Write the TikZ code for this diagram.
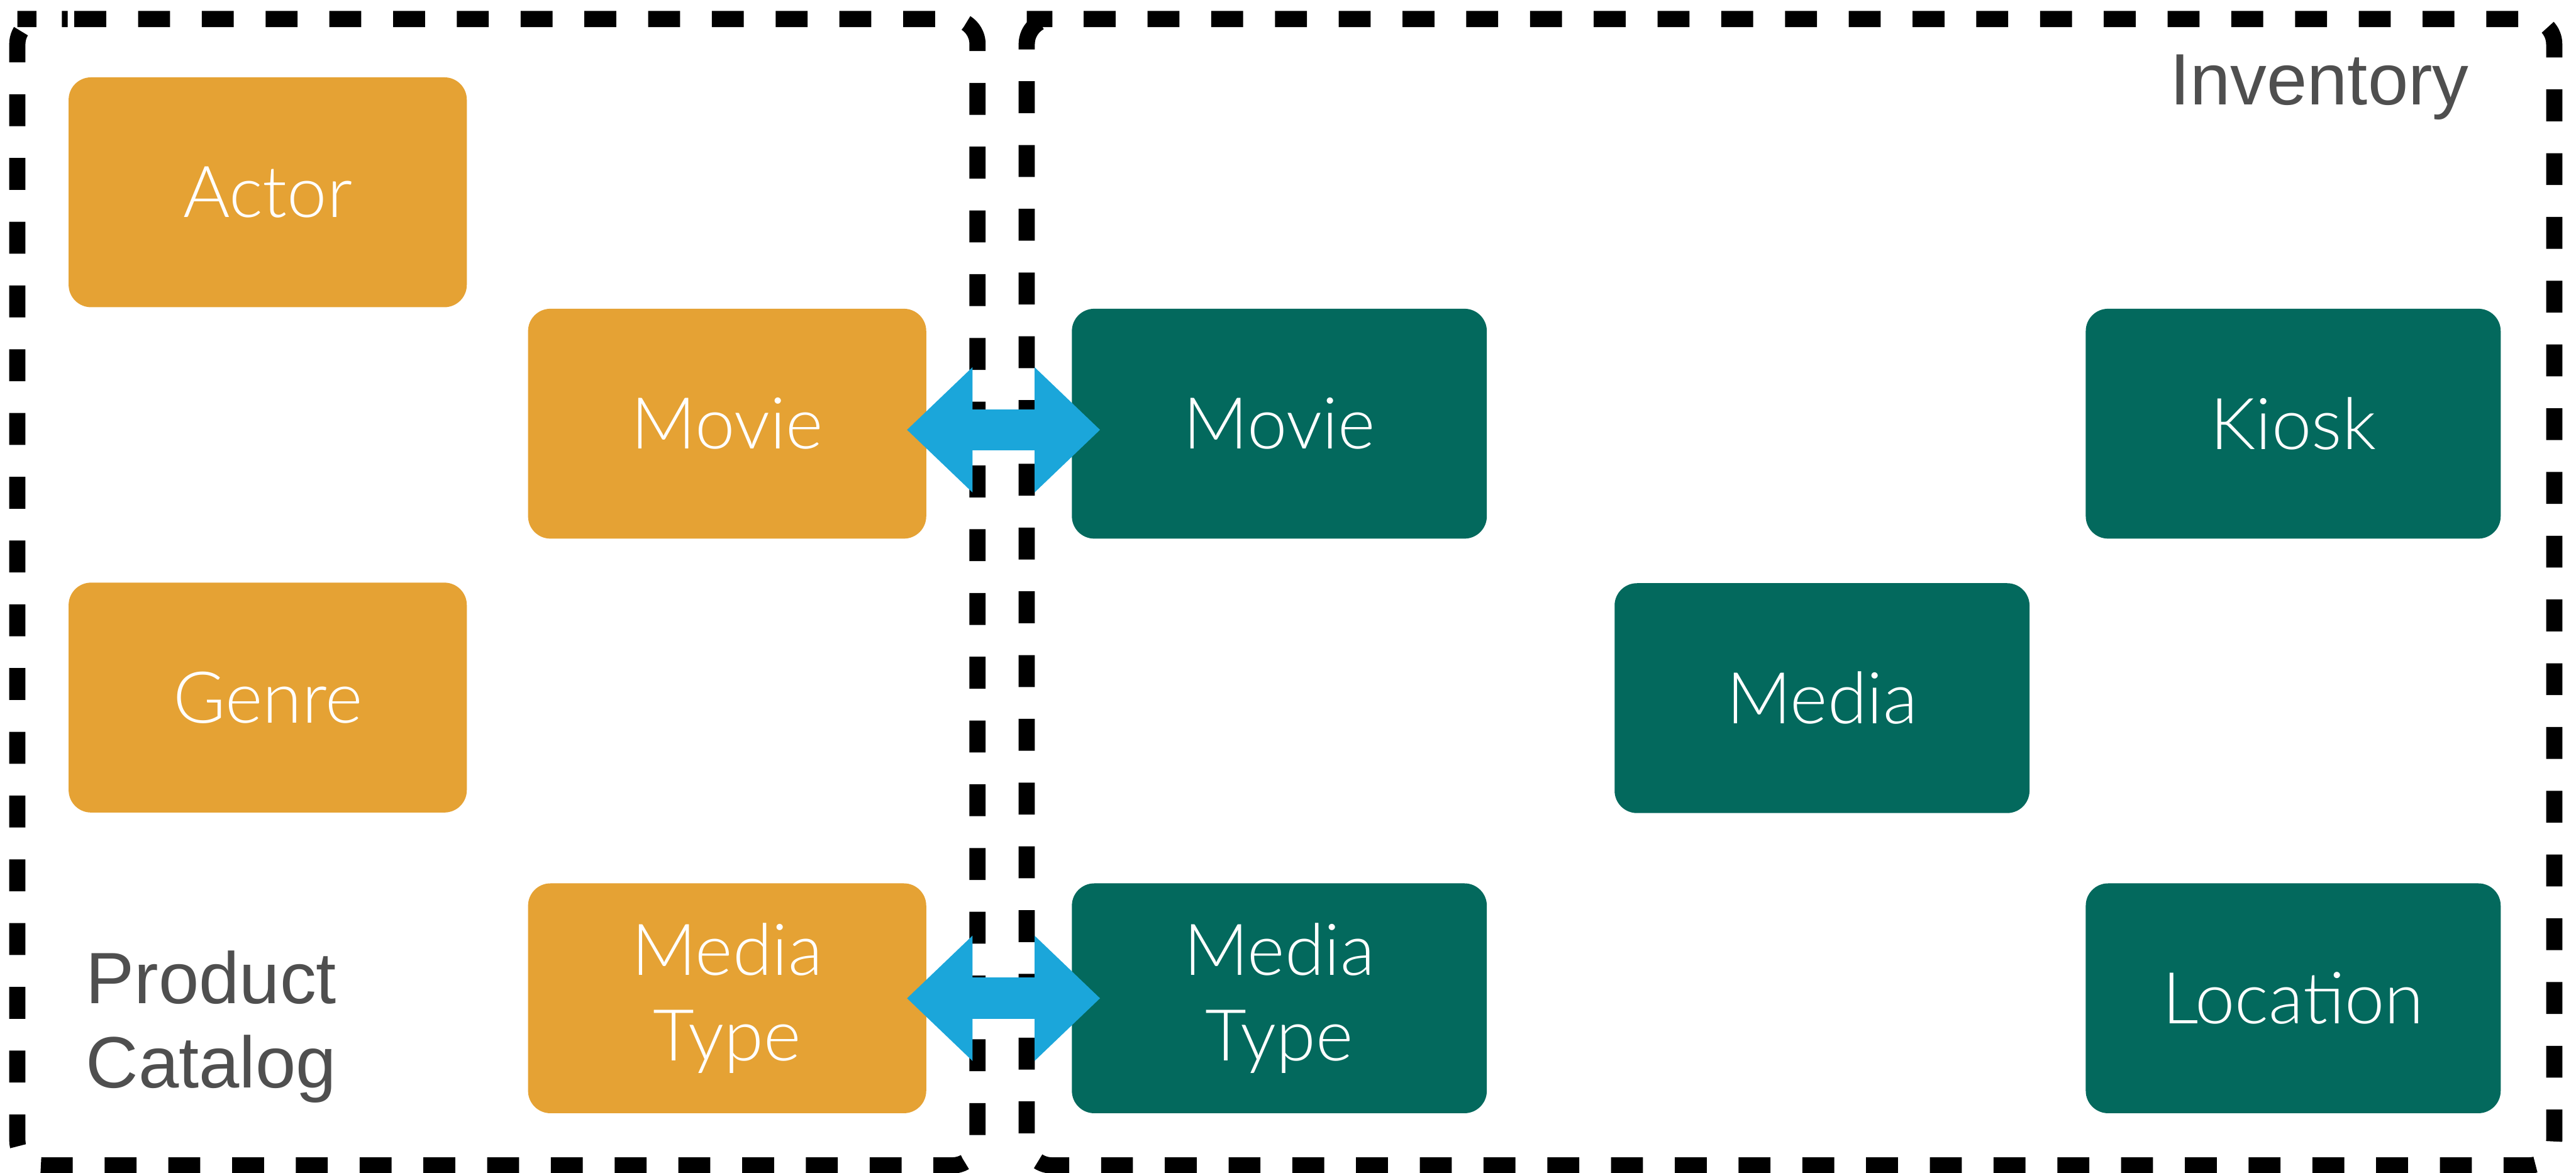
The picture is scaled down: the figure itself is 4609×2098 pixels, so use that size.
\documentclass[tikz,border=0pt]{standalone}
\usepackage{fontspec}
\setmainfont{Lato}
\newfontfamily\boxfont{Lato Light}
\newfontfamily\labelfont{Liberation Sans}
\usetikzlibrary{arrows.meta}
\definecolor{orangebox}{HTML}{E5A234}
\definecolor{greenbox}{HTML}{03695D}
\definecolor{arrowblue}{HTML}{1BA6DA}
\definecolor{labelgray}{HTML}{4F4F4F}
\begin{document}
\begin{tikzpicture}[x=0.01cm, y=-0.01cm,
  entity/.style={rounded corners=0.4cm, minimum height=4.11cm, text=white,
    font=\boxfont\fontsize{36.4pt}{43.7pt}\selectfont, align=center, inner sep=0pt},
  cat/.style={entity, fill=orangebox, minimum width=7.12cm},
  inv/.style={entity, fill=greenbox, minimum width=7.42cm},
  dashbox/.style={line width=0.29cm, dash pattern=on 0.57cm off 0.57cm,
    dash phase=1.02cm, rounded corners=0.45cm},
  link/.style={arrowblue, line width=0.74cm,
    {Triangle[length=1.17cm,width=2.24cm,line width=0pt]}-{Triangle[length=1.17cm,width=2.24cm,line width=0pt]}},
  grouplabel/.style={text=labelgray, font=\labelfont\fontsize{37pt}{42.7pt}\selectfont, inner sep=0pt}]
\useasboundingbox (0,0) rectangle (4609,2098);

% group frames
\draw[dashbox] (76,34) -- (1749,34) -- (1749,2085) -- (31,2085) -- (31,34) -- cycle;
\draw[dashbox] (1882,34) -- (4570,34) -- (4570,2085) -- (1837,2085) -- (1837,34) -- cycle;

% product catalog
\node[cat] (actor)  at (479,344)  {Actor};
\node[cat] (omovie) at (1301,758) {Movie};
\node[cat] (genre)  at (479,1248) {Genre};
\node[cat] (omt)    at (1301,1786) {Media\\Type};

% inventory
\node[inv] (gmovie)   at (2289,758)  {Movie};
\node[inv] (kiosk)    at (4103,758)  {Kiosk};
\node[inv] (media)    at (3260,1249) {Media};
\node[inv] (gmt)      at (2289,1786) {Media\\Type};
\node[inv] (location) at (4103,1786) {Location};

% labels
\node[grouplabel, anchor=base east] (invlabel) at (4418,187) {Inventory};
\node[grouplabel, anchor=base west, align=left] (pclabel) at (153,1946) {Product\\Catalog};

% links
\draw[link] ([xshift=-0.35cm,yshift=-0.11cm]omovie.east) -- ([xshift=0.51cm,yshift=-0.11cm]gmovie.west);
\draw[link] ([xshift=-0.35cm]omt.east) -- ([xshift=0.51cm]gmt.west);
\end{tikzpicture}
\end{document}
